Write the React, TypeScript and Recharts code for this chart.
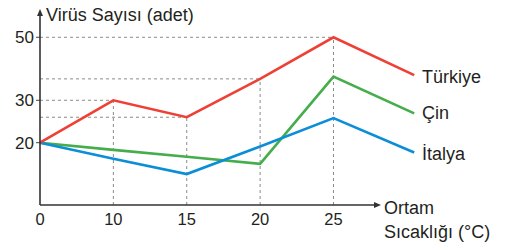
import React from "react";
import { LineChart, Line, XAxis, YAxis, ReferenceLine } from "recharts";

// temperatures on the x axis (equally spaced slots, not to scale)
const temps = ["0", "10", "15", "20", "25"];
// virus counts; last value is where each line ends by its label
const turkiye = [20, 30, 26, 36.8, 50, 38];
const cin = [20, 18.3, 16.7, 15, 37.5, 26.9];
const italya = [20, 16.2, 12.6, 19.1, 25.8, 17.7];
const yTicks = [20, 30, 50];

const END_SLOT = 5.1; // the label end sits a bit past the next slot

// the printed y axis is squeezed above 30
const SQUEEZE = 0.743;
const warp = (v: number) => (v <= 30 ? v : 30 + (v - 30) * SQUEEZE);

const RED = "#ee4035";
const GREEN = "#45ad4b";
const BLUE = "#0b8ed8";
const INK = "#231f20";
const FONT = "'Liberation Sans', Arial, Helvetica, sans-serif";

const Y_MIN = 5.3;
const Y_MAX = 50;

const data = turkiye.map((_, i) => ({
  x: i < temps.length ? i : END_SLOT,
  turkiye: warp(turkiye[i]),
  cin: warp(cin[i]),
  italya: warp(italya[i]),
}));

const tickLabel = (v: number) => {
  const hit = yTicks.find((t) => Math.abs(warp(t) - v) < 0.01);
  return hit === undefined ? "" : String(hit);
};

export default function App() {
  // guide lines go from the Türkiye points at 10, 15, 20, 25 to both axes
  const guides = [1, 2, 3, 4];
  return (
    <div style={{ position: "absolute", left: 0, top: 0, width: 506, height: 243, background: "#fff", fontFamily: FONT }}>
      <LineChart width={506} height={243} data={data} margin={{ top: 15.5, right: 91.8, left: 0, bottom: 8 }}>
        <XAxis
          dataKey="x"
          type="number"
          domain={[0, END_SLOT]}
          ticks={[0, 1, 2, 3, 4]}
          tickFormatter={(i: number) => temps[i]}
          axisLine={false}
          tickLine={false}
          tickSize={6}
          tick={{ fill: INK, fontSize: 16.5, fontFamily: FONT }}
          height={30}
        />
        <YAxis
          type="number"
          domain={[Y_MIN, Y_MAX]}
          ticks={yTicks.map(warp)}
          tickFormatter={tickLabel}
          axisLine={false}
          tickLine={{ stroke: "#444", strokeWidth: 1 }}
          tickSize={4}
          tick={{ fill: INK, fontSize: 17, fontFamily: FONT }}
          width={40}
        />
        {guides.map((i) => (
          <ReferenceLine
            key={"h" + i}
            segment={[{ x: 0, y: warp(turkiye[i]) }, { x: i, y: warp(turkiye[i]) }]}
            stroke="#8a8a8a"
            strokeWidth={1}
            strokeDasharray="3 3"
          />
        ))}
        {guides.map((i) => (
          <ReferenceLine
            key={"v" + i}
            segment={[{ x: i, y: Y_MIN }, { x: i, y: warp(turkiye[i]) }]}
            stroke="#8a8a8a"
            strokeWidth={1}
            strokeDasharray="3 3"
          />
        ))}
        <Line type="linear" dataKey="cin" stroke={GREEN} strokeWidth={2.6} dot={false} isAnimationActive={false} />
        <Line type="linear" dataKey="italya" stroke={BLUE} strokeWidth={2.6} dot={false} isAnimationActive={false} />
        <Line type="linear" dataKey="turkiye" stroke={RED} strokeWidth={2.6} dot={false} isAnimationActive={false} />
      </LineChart>
      <svg width={506} height={243} style={{ position: "absolute", left: 0, top: 0, pointerEvents: "none" }}>
        <line x1={40} y1={205} x2={40} y2={14} stroke="#333" strokeWidth={1.6} />
        <polygon points="40,9 37,16 43,16" fill="#333" />
        <line x1={40} y1={205} x2={375} y2={205} stroke="#333" strokeWidth={1.6} />
        <polygon points="381,205 374,202 374,208" fill="#333" />
        <text x={46} y={20.5} fontSize={18} fill={INK} fontFamily={FONT}>Virüs Sayısı (adet)</text>
        <text x={384} y={214} fontSize={18} fill={INK} fontFamily={FONT}>Ortam</text>
        <text x={384} y={238} fontSize={18} fill={INK} fontFamily={FONT}>Sıcaklığı (°C)</text>
        <text x={422} y={83} fontSize={18} fill={INK} fontFamily={FONT}>Türkiye</text>
        <text x={422} y={119} fontSize={18} fill={INK} fontFamily={FONT}>Çin</text>
        <text x={422} y={160} fontSize={18} fill={INK} fontFamily={FONT}>İtalya</text>
      </svg>
    </div>
  );
}
